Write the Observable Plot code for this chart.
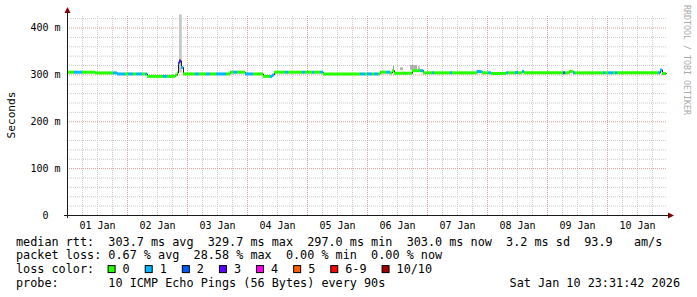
<!DOCTYPE html>
<html><head><meta charset="utf-8">
<script src="https://cdn.jsdelivr.net/npm/d3@7"></script>
<script src="https://cdn.jsdelivr.net/npm/@observablehq/plot@0.6"></script>
<style>
html,body{margin:0;padding:0;background:#fff;}
</style>
</head><body><div id="chart"></div>
<script>
// ---- data ----
const dayLabels = ["01 Jan","02 Jan","03 Jan","04 Jan","05 Jan","06 Jan","07 Jan","08 Jan","09 Jan","10 Jan"];
const dayLabelHours = [12,36,60,84,108,132,156,180,204,228];
const yTickValues = [0,100,200,300,400];
const yTickLabels = ["0\u00a0\u00a0","100 m","200 m","300 m","400 m"];
const yMax = 426.67;
const xMax = 240;

// median rtt segments: start hour (from 01 Jan 00:00), median ms, loss level index
const segHours = [0,2.8,6.0,11.2,18.4,20,23.2,24.4,26.4,27.6,30.0,31.2,32,38.4,40,43.2,44.0,44.4,44.8,45.6,46.4,51.2,52.8,55.6,57.2,59.6,63.6,65.2,66.4,68,71.2,74.4,78.4,81.2,82,82.8,87.2,88.4,94,95.2,98,98.8,101.2,102.4,117.2,119.2,120,122,122.8,124.4,125.2,127.6,129.2,130,130.8,138,141.2,142.4,146,146.8,153.2,154,164,166,168.4,169.6,175.6,176.4,179.2,180.4,182,182.8,198.4,199.2,200.8,202.4,203.2,214.4,215.2,216.4,218.4,219.2,220,236.4,237.2,238];
const segMedian = [305.7,305.7,305.7,304.2,304.2,302,302,302,302,302,302,302,296.8,296.8,296.8,299.5,304,325,329.7,316,302,302,302,302,302,302,302,305.7,305.7,305.7,302,302,296.8,296.8,300,305.7,305.7,305.7,305.7,305.7,305.7,305.7,305.7,302,302,302,302,302,302,302,305.7,305.7,304,309,303.5,309,309,304.4,304.4,304.4,304.4,304.4,307,304.4,304.4,303,304.4,304.4,305,304.4,307,304.4,304.4,304.4,307.5,304.4,304.4,304.4,304.4,304.4,304.4,304.4,304.4,304.4,310.5,303.0];
const segLoss = [0,1,0,0,1,1,0,1,0,1,0,1,0,1,0,0,0,2,3,1,0,1,0,1,0,1,0,0,1,0,1,0,0,1,1,0,1,0,1,0,1,0,1,0,1,0,1,0,1,0,0,1,0,0,0,0,1,0,1,0,1,0,1,0,1,0,1,0,1,0,1,0,2,0,0,1,0,1,0,1,0,1,0,1,1,0];
const endHour = 239.6;

// smoke (spread of pings)
const smokeStart = [44.8,130.4,133.2,137.2,140.4,163.6];
const smokeEnd   = [45.9,130.8,134.4,140.0,141.2,165.2];
const smokeLow   = [304,306,309,310,309,304];
const smokeHigh  = [428,318,315,320,317,310];
const smokeShade = ["#c6c6c6","#9a9a9a","#b4b4b4","#b0b0b0","#bcbcbc","#c8c8c8"];

// legend
const lossLabels = ["0","1","2","3","4","5","6-9","10/10"];
const lossColors = ["#26ff00","#00b8ff","#0059ff","#5e00ff","#ff00f5","#ff5e00","#ff0000","#a10000"];
const statsRtt  = "median rtt:  303.7 ms avg  329.7 ms max  297.0 ms min  303.0 ms now  3.2 ms sd  93.9   am/s";
const statsLoss = "packet loss: 0.67 % avg  28.58 % max  0.00 % min  0.00 % now";
const lossTitle = "loss color:";
const probeText = "probe:       10 ICMP Echo Pings (56 Bytes) every 90s";
const dateText  = "Sat Jan 10 23:31:42 2026";
const yTitle = "Seconds";
const watermark = "RRDTOOL / TOBI OETIKER";

// ---- build ----
const nb = s => s.replace(/ /g, "\u00a0");
const segments = segHours.map((h,i)=>({x1:h, x2: i+1<segHours.length ? segHours[i+1] : endHour, y: segMedian[i], stroke: lossColors[segLoss[i]]}));
const stepPts = segments.map(s=>({x:s.x1,y:s.y})).concat([{x:endHour, y:segMedian[segMedian.length-1]}]);
const smoke = smokeStart.map((s,i)=>({x1:s, x2:smokeEnd[i], y1:smokeLow[i], y2:smokeHigh[i], fill:smokeShade[i]}));
const minorX = d3.range(6,xMax,6).filter(h=>h%24!==0);
const majorX = d3.range(24,xMax,24);
const minorY = d3.range(20,yMax,20).filter(v=>v%100!==0);
const majorY = d3.range(100,yMax,100);
const mono = "'DejaVu Sans Mono', monospace";

const plot = Plot.plot({
  width: 697, height: 297,
  marginLeft: 67, marginRight: 30, marginTop: 15, marginBottom: 82,
  style: {fontFamily: mono, fontSize: "10px", background: "#fff", color: "#000", overflow: "visible"},
  x: {domain: [0, xMax], ticks: dayLabelHours, tickFormat: d => dayLabels[dayLabelHours.indexOf(d)], tickSize: 0, tickPadding: 6, label: null},
  y: {domain: [0, yMax], ticks: yTickValues, tickFormat: d => yTickLabels[yTickValues.indexOf(d)], tickSize: 0, tickPadding: 7, label: null},
  color: {type: "identity"},
  marks: [
    Plot.ruleX(minorX, {y1: 0, y2: yMax, stroke: "#cccccc", strokeDasharray: "1,1"}),
    Plot.ruleY(minorY, {x1: 0, x2: xMax, stroke: "#cccccc", strokeDasharray: "1,1"}),
    Plot.ruleX(majorX, {y1: 0, y2: yMax, stroke: "#df9c9c", strokeDasharray: "1,1"}),
    Plot.ruleY(majorY, {x1: 0, x2: xMax, stroke: "#df9c9c", strokeDasharray: "1,1"}),
    Plot.rect(smoke, {x1: "x1", x2: "x2", y1: "y1", y2: "y2", fill: "fill"}),
    Plot.line(stepPts, {x: "x", y: "y", curve: "step-after", stroke: "#202020", strokeWidth: 1}),
    Plot.ruleY(segments, {x1: "x1", x2: "x2", y: "y", stroke: "stroke", strokeWidth: 3})
  ]
});
document.getElementById("chart").appendChild(plot);

const svg = d3.select(plot);
const xs = plot.scale("x"), ys = plot.scale("y");
const X = v => xs.apply(v), Y = v => ys.apply(v);
const x0 = X(0), x1 = X(xMax), y0 = Y(0), yTop = Y(yMax);

// axes with arrows
svg.append("line").attr("x1", x0 - 3).attr("x2", x1 + 2).attr("y1", y0 + 0.5).attr("y2", y0 + 0.5).attr("stroke", "#1a1a1a");
svg.append("line").attr("x1", x0 + 0.5).attr("x2", x0 + 0.5).attr("y1", y0 + 3).attr("y2", yTop - 2).attr("stroke", "#1a1a1a");
svg.append("polygon").attr("points", `${x1+1},${y0-2.5} ${x1+7},${y0+0.5} ${x1+1},${y0+3.5}`).attr("fill", "#7f0000");
svg.append("polygon").attr("points", `${x0-2.5},${yTop-2} ${x0+0.5},${yTop-8} ${x0+3.5},${yTop-2}`).attr("fill", "#7f0000");

// y title
svg.append("text").attr("transform", `translate(15,${(y0+yTop)/2}) rotate(-90)`)
  .attr("text-anchor", "middle").attr("font-family", mono).attr("font-size", "11.2px").attr("fill", "#000").text(yTitle);
// watermark
svg.append("text").attr("transform", `translate(684,5) rotate(90)`)
  .attr("text-anchor", "start").attr("font-family", mono).attr("font-size", "8.3px").attr("fill", "#aaaaaa").text(nb(watermark));

// legend
const lg = svg.append("g").attr("font-family", mono).attr("font-size", "11.8px").attr("fill", "#000").attr("text-anchor", "start");
const rowY = [245.8, 259.4, 273.1, 286.8];
const lx = 16, cw = 7.1;
lg.append("text").attr("x", lx).attr("y", rowY[0]).attr("text-anchor", "start").text(nb(statsRtt));
lg.append("text").attr("x", lx).attr("y", rowY[1]).attr("text-anchor", "start").text(nb(statsLoss));
lg.append("text").attr("x", lx).attr("y", rowY[2]).attr("text-anchor", "start").text(nb(lossTitle));
let bx = lx + 13 * cw - 0.7;
lossLabels.forEach((lab, i) => {
  lg.append("rect").attr("x", bx + 0.5).attr("y", rowY[2] - 7.5).attr("width", 7).attr("height", 7)
    .attr("fill", lossColors[i]).attr("stroke", "#000").attr("stroke-width", 1);
  lg.append("text").attr("x", bx + 15).attr("y", rowY[2]).attr("text-anchor", "start").text(lab);
  bx += 8 + cw * (lab.length + 3.1);
});
lg.append("text").attr("x", lx).attr("y", rowY[3]).attr("text-anchor", "start").text(nb(probeText));
lg.append("text").attr("x", 680).attr("y", rowY[3]).attr("text-anchor", "end").text(nb(dateText));
</script>
</body></html>
